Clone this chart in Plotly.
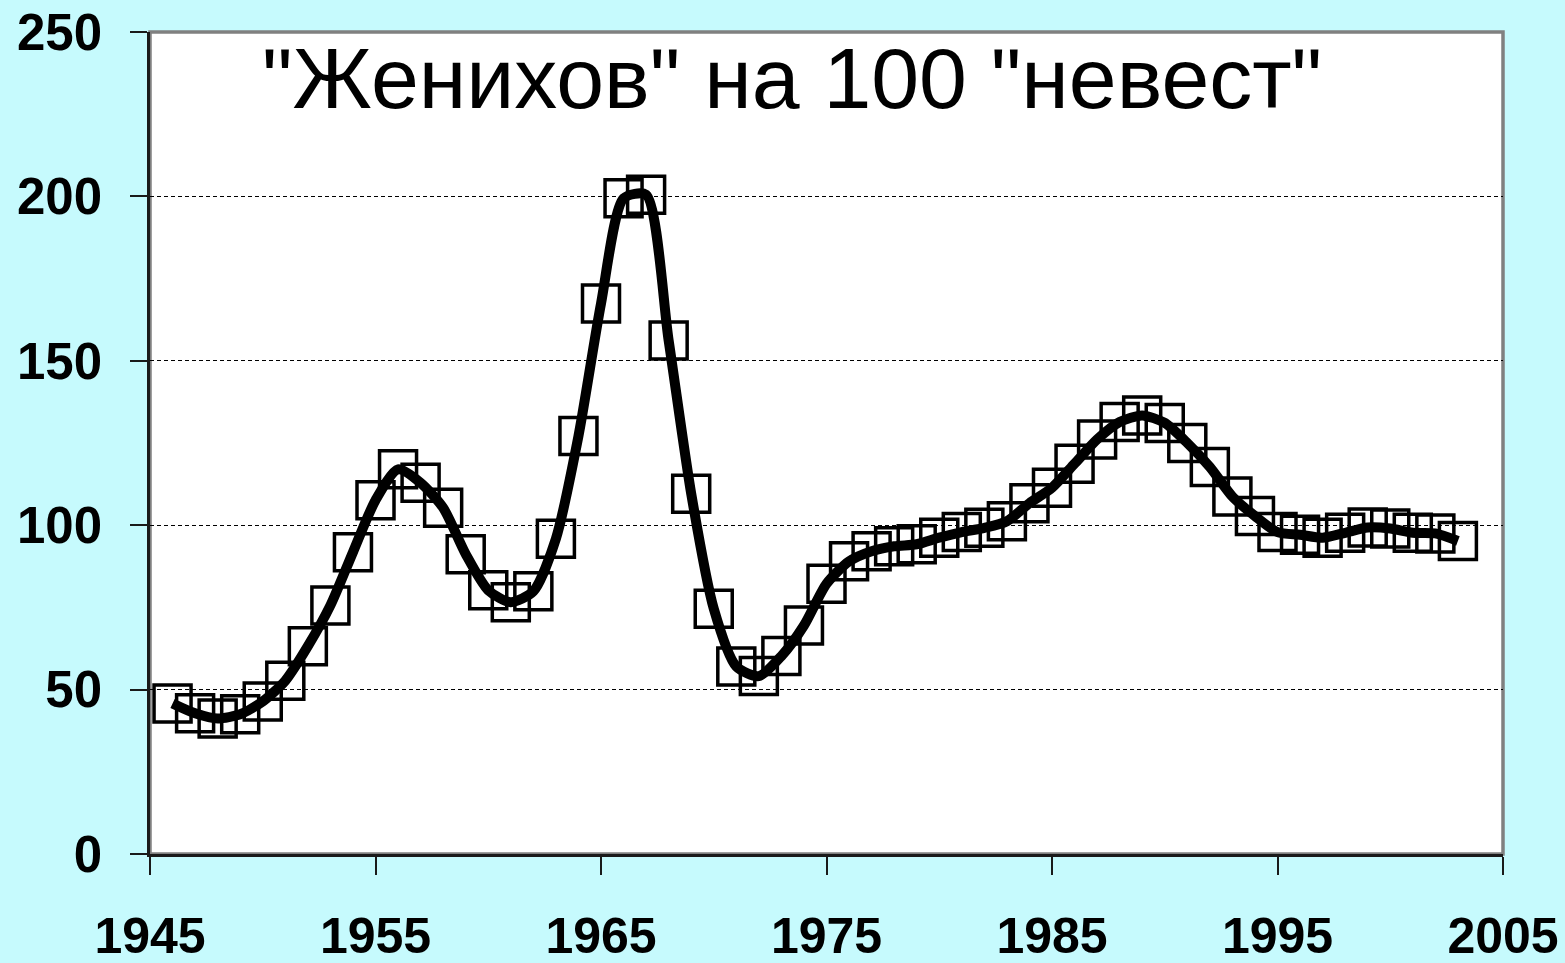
import plotly.graph_objects as go

# Number of "grooms" per 100 "brides", by year
years = list(range(1946, 2004))
grooms_per_100 = [
    45.8, 42.8, 41.2, 42.5, 46.4, 52.7, 63.2, 75.6, 91.8, 107.6,
    117.0, 112.9, 105.3, 91.2, 80.2, 76.6, 79.9, 95.9, 127.1, 167.4,
    199.4, 200.5, 156.2, 109.6, 74.6, 57.0, 54.1, 60.2, 69.5, 82.2,
    89.0, 92.1, 93.6, 94.2, 96.2, 97.9, 99.2, 101.2, 106.7, 111.4,
    118.7, 126.1, 131.4, 133.4, 131.1, 125.0, 117.7, 108.7, 102.8, 97.9,
    97.1, 96.2, 97.7, 99.3, 99.0, 97.7, 97.5, 95.2,
]
x_ticks = [1945, 1955, 1965, 1975, 1985, 1995, 2005]
y_ticks = [0, 50, 100, 150, 200, 250]
title_text = '"Женихов" на 100 "невест"'

FONT = "Arial, Liberation Sans, sans-serif"

fig = go.Figure()

# open square markers for yearly values
fig.add_trace(go.Scatter(
    x=years, y=grooms_per_100, mode="markers",
    marker=dict(symbol="square-open", size=37, color="black",
                line=dict(width=3.5, color="black")),
    showlegend=False, hoverinfo="x+y", cliponaxis=False,
))
# smoothed thick line through the same values
fig.add_trace(go.Scatter(
    x=years, y=grooms_per_100, mode="lines",
    line=dict(shape="spline", smoothing=0.7, width=10, color="black"),
    showlegend=False, hoverinfo="skip", cliponaxis=False,
))

# grey frame around the plotting area
fig.add_shape(type="rect", xref="paper", yref="paper", x0=0, x1=1, y0=0, y1=1,
              line=dict(color="#808080", width=3.5), fillcolor="rgba(0,0,0,0)",
              layer="below")

fig.add_annotation(
    text=title_text, xref="paper", yref="paper", x=0.4745, y=0.944,
    xanchor="center", yanchor="middle", showarrow=False,
    font=dict(family=FONT, size=86, color="black"),
)

fig.update_layout(
    width=1565, height=963,
    margin=dict(l=150, r=62, t=32, b=109, autoexpand=False),
    paper_bgcolor="#C6FAFD", plot_bgcolor="white",
    font=dict(family=FONT, color="black"),
    showlegend=False,
)
fig.update_xaxes(
    range=[1945, 2005], tickvals=x_ticks, ticktext=[str(v) for v in x_ticks],
    showgrid=False, zeroline=False, automargin=False,
    showline=True, linecolor="#1a1a1a", linewidth=2.5,
    ticks="outside", ticklen=18, tickwidth=2, tickcolor="#1a1a1a",
    tickfont=dict(family=FONT, size=50, color="black", weight="bold"),
    ticklabelstandoff=18,
)
fig.update_yaxes(
    range=[0, 250], tickvals=y_ticks, ticktext=[str(v) for v in y_ticks],
    showgrid=True, gridcolor="black", gridwidth=1, griddash="4px,3px",
    zeroline=False, automargin=False,
    showline=True, linecolor="#1a1a1a", linewidth=2.5,
    ticks="outside", ticklen=17, tickwidth=2, tickcolor="#1a1a1a",
    tickfont=dict(family=FONT, size=51, color="black", weight="bold"),
    ticklabelstandoff=18,
)

fig.write_html("out.html")
